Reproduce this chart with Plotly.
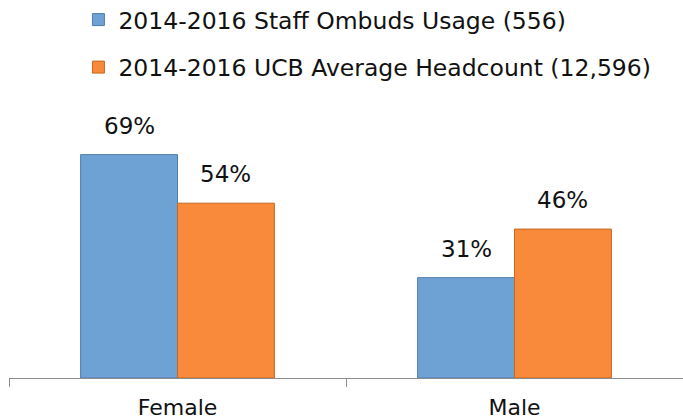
import plotly.graph_objects as go

categories = ["Female", "Male"]
series_names = ["2014-2016 Staff Ombuds Usage (556)", "2014-2016 UCB Average Headcount (12,596)"]
ombuds_usage = [69, 31]
ucb_headcount = [54, 46]
colors = ["#6EA2D5", "#F98A3B"]
edge_colors = ["#4F7DAE", "#C7671F"]

FONT = "DejaVu Sans"
W, H = 683, 420
ML, MR, MT, MB = 9, 0, 119, 42
BARGAP = 0.425

fig = go.Figure()
all_vals = [ombuds_usage, ucb_headcount]
for i, (name, vals) in enumerate(zip(series_names, all_vals)):
    fig.add_trace(go.Bar(
        x=categories, y=vals, name=name,
        legendgroup=f"g{i}",
        marker=dict(color=colors[i], line=dict(color=edge_colors[i], width=1)),
        cliponaxis=False,
    ))

# value labels above each bar (bar width derived from layout settings)
cat_w = (W - ML - MR) / len(categories)
bar_w = cat_w * (1 - BARGAP) / len(all_vals)
for i, vals in enumerate(all_vals):
    shift = (i - (len(all_vals) - 1) / 2) * bar_w
    for c, v in zip(categories, vals):
        fig.add_annotation(
            x=c, y=v, text=f"{v}%", showarrow=False,
            xshift=shift, yshift=14, yanchor="bottom",
            font=dict(family=FONT, size=23, color="#111111"),
        )

fig.update_layout(
    width=W, height=H,
    margin=dict(l=ML, r=MR, t=MT, b=MB, autoexpand=False),
    paper_bgcolor="white", plot_bgcolor="white",
    barmode="group", bargap=BARGAP, bargroupgap=0,
    font=dict(family=FONT, size=22, color="#111111"),
    showlegend=True,
    legend=dict(
        x=0.103, y=1.468, xanchor="left", yanchor="top",
        orientation="v", traceorder="grouped",
        tracegroupgap=14,
        font=dict(family=FONT, size=23.5, color="#111111"),
        bgcolor="rgba(0,0,0,0)",
    ),
    xaxis=dict(
        range=[-0.5, 1.5],
        showline=True, linecolor="#8C8C8C", linewidth=1,
        ticks="outside", tickson="boundaries", ticklen=8, tickcolor="#8C8C8C",
        ticklabelstandoff=10,
        tickfont=dict(family=FONT, size=22, color="#111111"),
        showgrid=False, zeroline=False, automargin=False,
    ),
    yaxis=dict(range=[0, 80], visible=False, showgrid=False, zeroline=False),
)

fig.write_html(
    "out.html",
    config={"displayModeBar": False},
    post_script="document.body.style.margin='0';document.body.style.overflow='hidden';",
)
